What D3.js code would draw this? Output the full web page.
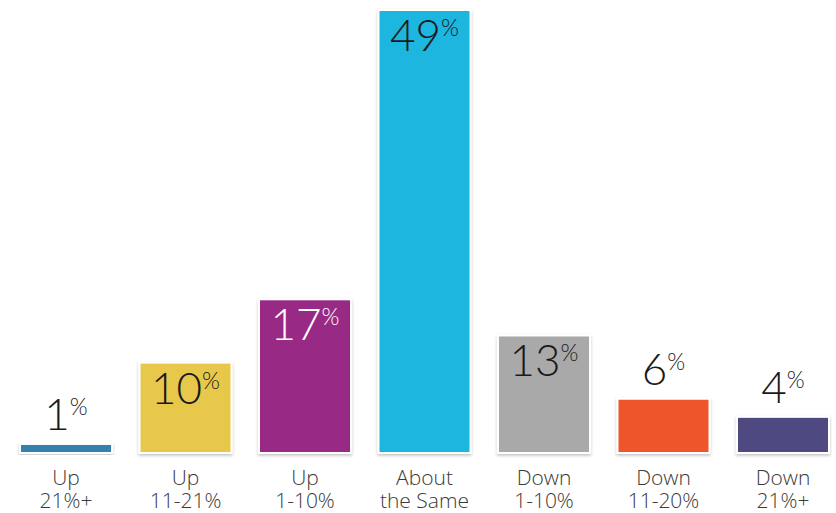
<!DOCTYPE html>
<html>
<head>
<meta charset="utf-8">
<script src="https://cdn.jsdelivr.net/npm/d3@7"></script>
<style>
  html, body { margin: 0; padding: 0; background: #fff; }
  svg { display: block; }
</style>
</head>
<body>
<svg id="chart" width="836" height="513"></svg>
<script>
const categoryLine1 = ["Up", "Up", "Up", "About", "Down", "Down", "Down"];
const categoryLine2 = ["21%+", "11-21%", "1-10%", "the Same", "1-10%", "11-20%", "21%+"];
const values = [1, 10, 17, 49, 13, 6, 4];
const colors = ["#3580ad", "#e8c84c", "#982b86", "#1bb6de", "#a9a9a9", "#ef552b", "#4f4882"];
const labelInside = [false, true, true, true, true, false, false];
const labelColors = ["#1a1a1a", "#1a1a1a", "#ffffff", "#1a1a1a", "#1a1a1a", "#1a1a1a", "#1a1a1a"];

const svg = d3.select("#chart");
const x = d3.scaleBand().domain(d3.range(values.length)).range([20, 829]).paddingInner(0.23).paddingOuter(0);
const y = d3.scaleLinear().domain([0, 49]).range([453, 10]);

const defs = svg.append("defs");
const f = defs.append("filter").attr("id", "sh").attr("x", "-10%").attr("y", "-10%").attr("width", "120%").attr("height", "130%");
f.append("feDropShadow").attr("dx", 0).attr("dy", 1.5).attr("stdDeviation", 1.5).attr("flood-color", "#000").attr("flood-opacity", 0.25);

const g = svg.append("g");
g.selectAll("rect.bar").data(values).join("rect")
  .attr("class", "bar")
  .attr("x", (d, i) => x(i))
  .attr("y", d => y(d))
  .attr("width", x.bandwidth())
  .attr("height", d => y(0) - y(d))
  .attr("fill", (d, i) => colors[i])
  .attr("stroke", "#fff")
  .attr("stroke-width", 2)
  .attr("filter", "url(#sh)");

const numFont = "Lato, 'Open Sans', sans-serif";
const lbl = g.selectAll("text.val").data(values).join("text")
  .attr("class", "val")
  .attr("x", (d, i) => x(i) + x.bandwidth() / 2)
  .attr("y", (d, i) => labelInside[i] ? y(d) + 41 : y(d) - 14)
  .attr("text-anchor", "middle")
  .attr("fill", (d, i) => labelColors[i])
  .style("font-family", numFont)
  .style("font-weight", 300)
  .style("font-size", "44px");
lbl.append("tspan").text(d => d);
lbl.append("tspan").text("%")
  .style("font-size", "23px")
  .attr("dy", -15)
  .attr("dx", 0);

const catStyle = sel => sel
  .attr("text-anchor", "middle")
  .attr("fill", "#3a3a3a")
  .style("font-family", "'Open Sans', sans-serif")
  .style("font-weight", 300)
  .style("font-size", "21px");

g.selectAll("text.cat1").data(categoryLine1).join("text")
  .attr("class", "cat1")
  .attr("x", (d, i) => x(i) + x.bandwidth() / 2)
  .attr("y", 485)
  .text(d => d)
  .call(catStyle);
g.selectAll("text.cat2").data(categoryLine2).join("text")
  .attr("class", "cat2")
  .attr("x", (d, i) => x(i) + x.bandwidth() / 2)
  .attr("y", 508)
  .text(d => d)
  .call(catStyle);
</script>
</body>
</html>
